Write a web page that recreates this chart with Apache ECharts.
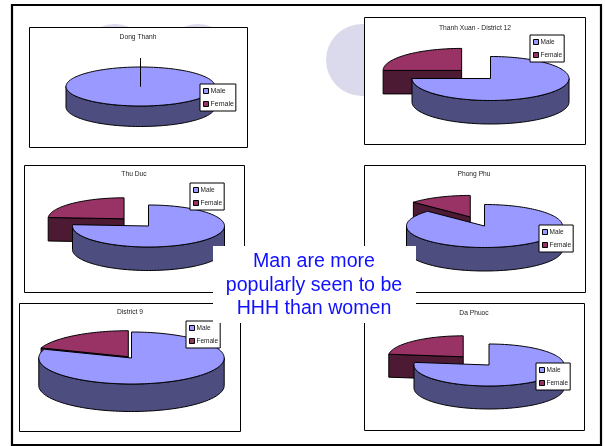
<!DOCTYPE html>
<html>
<head>
<meta charset="utf-8">
<style>html,body{margin:0;padding:0;background:#fff}#slide{width:605px;height:446px}</style>
<script src="https://cdn.jsdelivr.net/npm/echarts@6/dist/echarts.min.js"></script>
</head>
<body>
<div id="slide"></div>
<script>
// Household-head gender share per survey site (percent)
const sites = ['Dong Thanh', 'Thanh Xuan - District 12', 'Thu Duc', 'Phong Phu', 'District 9', 'Da Phuoc'];
const maleShare = [100, 75, 76, 87, 80.5, 77];
const femaleShare = [0, 25, 24, 13, 19.5, 23];
const legendNames = ['Male', 'Female'];
const captionLines = ['Man are more', 'popularly seen to be', 'HHH than women'];

// Panel frames and pie placement: box [x, y, w, h], pie [cx, cy, rx, ry, depth],
// female slice pull-out, title anchor [x, y], legend anchor [x, y], legend font size
const panels = [
  { box: [29, 27, 218, 120],  pie: [140.5, 86.5, 74.5, 19.5, 20.5], pull: 0.46, title: [138, 37],  legend: [200, 84],  legendFont: 7 },
  { box: [364, 17, 221, 127], pie: [490.5, 78.5, 78.5, 22, 23.5],   pull: 0.52, title: [475, 28],  legend: [530, 35],  legendFont: 6.5 },
  { box: [24, 165, 220, 127], pie: [148.5, 226, 76, 21, 23.5],      pull: 0.47, title: [134, 174], legend: [190, 183], legendFont: 6.5 },
  { box: [364, 165, 221, 127], pie: [484.5, 226, 78, 21.5, 23.5],   pull: 0.46, title: [474, 174], legend: [539, 225], legendFont: 6.5 },
  { box: [19, 303, 221, 128], pie: [131.5, 358, 92.7, 26, 27.5],    pull: 0.06, title: [130, 312], legend: [186, 321], legendFont: 6.5 },
  { box: [364, 303, 220, 127], pie: [489, 365, 75, 21, 23],         pull: 0.52, title: [474, 313], legend: [536, 363], legendFont: 6.5 }
];
const backdropCircles = [[115, 60, 36], [198, 60, 36], [362, 60, 36]];

const maleTop = '#9999ff', maleSide = '#4d4d80';
const femaleTop = '#993366', femaleSide = '#4d1a33';
const ink = '#000';
const rad = Math.PI / 180;

// One extruded wedge of a tilted pie, angles clockwise from 12 o'clock
function wedge(pie, from, to, topColor, sideColor, dx, dy) {
  const [cx, cy, rx, ry, depth] = pie;
  const px = a => cx + dx + rx * Math.sin(a * rad);
  const py = a => cy + dy - ry * Math.cos(a * rad);
  const ax = cx + dx, ay = cy + dy;
  const out = [];
  const line = { stroke: ink, lineWidth: 1, lineJoin: 'round' };
  const poly = (points, fill) => out.push({ type: 'polygon', shape: { points }, style: { fill, ...line } });
  const wall = a => poly([[ax, ay], [px(a), py(a)], [px(a), py(a) + depth], [ax, ay + depth]], sideColor);

  if (Math.sin(from * rad) < -1e-6) wall(from);
  if (Math.sin(to * rad) > 1e-6) wall(to);

  const s = Math.max(from, 90), e = Math.min(to, 270);
  if (e > s) {
    const rim = [];
    for (let a = s; a <= e; a += 2) rim.push([px(a), py(a)]);
    rim.push([px(e), py(e)]);
    const lower = rim.map(p => [p[0], p[1] + depth]).reverse();
    poly(rim.concat(lower), sideColor);
  }

  const top = [[ax, ay]];
  for (let a = from; a < to; a += 2) top.push([px(a), py(a)]);
  top.push([px(to), py(to)]);
  poly(top, topColor);
  return { type: 'group', children: out };
}

function sliceSeries(panel, idx, name) {
  const isMale = name === 'Male';
  return {
    type: 'custom',
    name,
    coordinateSystem: 'none',
    silent: true,
    z: 3,
    itemStyle: { color: isMale ? maleTop : femaleTop },
    data: [[maleShare[idx], femaleShare[idx]]],
    renderItem: (params, api) => {
      const m = api.value(0), f = api.value(1);
      const split = 360 * m / (m + f);
      if (isMale) return wedge(panel.pie, 0, split, maleTop, maleSide, 0, 0);
      const mid = (split + 360) / 2;
      const dx = panel.pull * panel.pie[2] * Math.sin(mid * rad);
      const dy = -panel.pull * panel.pie[3] * Math.cos(mid * rad);
      return wedge(panel.pie, split, 360, femaleTop, femaleSide, dx, dy);
    }
  };
}

const graphics = [];
backdropCircles.forEach(([cx, cy, r]) => graphics.push({
  type: 'circle', z: 0, shape: { cx, cy, r }, style: { fill: '#dadaec' }
}));
panels.forEach(p => graphics.push({
  type: 'rect', z: 1,
  shape: { x: p.box[0] + 0.5, y: p.box[1] + 0.5, width: p.box[2], height: p.box[3] },
  style: { fill: '#fff', stroke: ink, lineWidth: 1 }
}));
graphics.push({
  type: 'rect', z: 1,
  shape: { x: 12, y: 5, width: 589, height: 440 },
  style: { fill: 'none', stroke: ink, lineWidth: 2.2 }
});
graphics.push({
  type: 'rect', z: 50,
  shape: { x: 213, y: 246, width: 203, height: 77 },
  style: { fill: '#fff' }
});
captionLines.forEach((t, i) => graphics.push({
  type: 'text', z: 51, x: 314, y: 262 + i * 23.3,
  style: {
    text: t, fill: '#1010ff', font: '19.6px "Liberation Sans", Arial, sans-serif',
    textAlign: 'center', textVerticalAlign: 'middle'
  }
}));

const option = {
  animation: false,
  backgroundColor: '#fff',
  title: panels.map((p, i) => ({
    text: sites[i], left: p.title[0], top: p.title[1],
    textAlign: 'center', textVerticalAlign: 'middle', padding: 0, z: 6,
    textStyle: { fontFamily: '"Liberation Sans", Arial, sans-serif', fontSize: 6.7, fontWeight: 'normal', color: '#222' }
  })),
  legend: panels.map(p => ({
    data: legendNames, left: p.legend[0], top: p.legend[1],
    orient: 'vertical', selectedMode: false, z: 6,
    icon: 'rect', itemWidth: 5, itemHeight: 5, itemGap: 5,
    padding: [3, 2, 3, 3], borderRadius: 0,
    backgroundColor: '#fff', borderColor: ink, borderWidth: 1,
    itemStyle: { borderColor: ink, borderWidth: 1 },
    textStyle: { fontFamily: '"Liberation Sans", Arial, sans-serif', fontSize: p.legendFont, color: '#222', padding: [0, 0, 0, -3], lineHeight: 8 }
  })),
  graphic: { elements: graphics },
  series: panels.flatMap((p, i) => [sliceSeries(p, i, 'Female'), sliceSeries(p, i, 'Male')])
};

echarts.init(document.getElementById('slide'), null, { renderer: 'canvas' }).setOption(option);
</script>
</body>
</html>
